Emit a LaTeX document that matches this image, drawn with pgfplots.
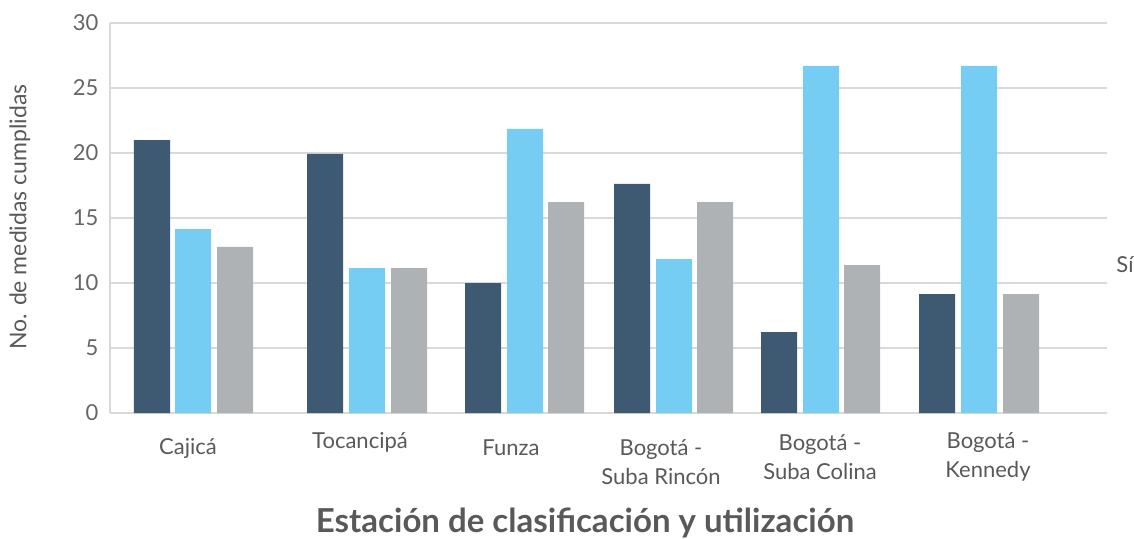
\documentclass[border=0pt]{standalone}
\usepackage{fontspec}
\setmainfont{Lato}
\usepackage{pgfplots}
\pgfplotsset{compat=1.18}
\definecolor{cdark}{HTML}{3E5A73}
\definecolor{clight}{HTML}{75CDF4}
\definecolor{cgray}{HTML}{AEB2B5}
\definecolor{cgrid}{HTML}{D9D9D9}
\definecolor{ctext}{HTML}{595959}
\definecolor{ctick}{HTML}{666666}
\begin{document}
\begin{tikzpicture}[x=1pt,y=1pt]
\path[use as bounding box] (-110,-125) rectangle (1024,413);
\begin{axis}[
  at={(0,0)}, anchor=south west,
  scale only axis, width=997pt, height=390pt,
  xmin=110, xmax=1107, ymin=0, ymax=30,
  axis x line=bottom, axis y line=left,
  axis line style={cgrid, line width=1.3pt, -},
  ytick={0,5,10,15,20,25,30},
  xtick=\empty,
  major tick length=0pt,
  ymajorgrids, grid style={cgrid, line width=1.3pt},
  yticklabel style={font=\fontsize{22}{24}\selectfont, text=ctick, xshift=-8pt},
  /pgf/number format/assume math mode=true,
  clip=false,
]
\addplot[ybar, bar width=36, bar shift=0pt, fill=cdark, draw=none]
  coordinates {(152,21.0) (325,19.93) (483,10.0) (632,17.62) (779,6.22) (937,9.15)};
\addplot[ybar, bar width=36, bar shift=0pt, fill=clight, draw=none]
  coordinates {(193,14.15) (367,11.15) (525,21.85) (674,11.84) (821,26.7) (979,26.7)};
\addplot[ybar, bar width=36, bar shift=0pt, fill=cgray, draw=none]
  coordinates {(235,12.77) (409,11.15) (566,16.23) (715,16.23) (862,11.38) (1021,9.15)};
\end{axis}
\begin{scope}[every node/.style={text=ctext, font=\fontsize{22}{29}\selectfont, align=center}]
\node at (78,-35) {Cajicá};
\node at (250,-29) {Tocancipá};
\node at (401,-35) {Funza};
\node at (551,-49) {Bogotá -\\Suba Rincón};
\node at (710,-44) {Bogotá -\\Suba Colina};
\node at (878,-44) {Bogotá -\\Kennedy};
\node at (1015,148) {Sí};
\node[rotate=90, font=\fontsize{23}{26}\selectfont] at (-90,196) {No. de medidas cumplidas};
\node[font=\fontsize{33}{36}\selectfont\bfseries] at (475,-110) {Estación de clasificación y utilización};
\end{scope}
\end{tikzpicture}
\end{document}
